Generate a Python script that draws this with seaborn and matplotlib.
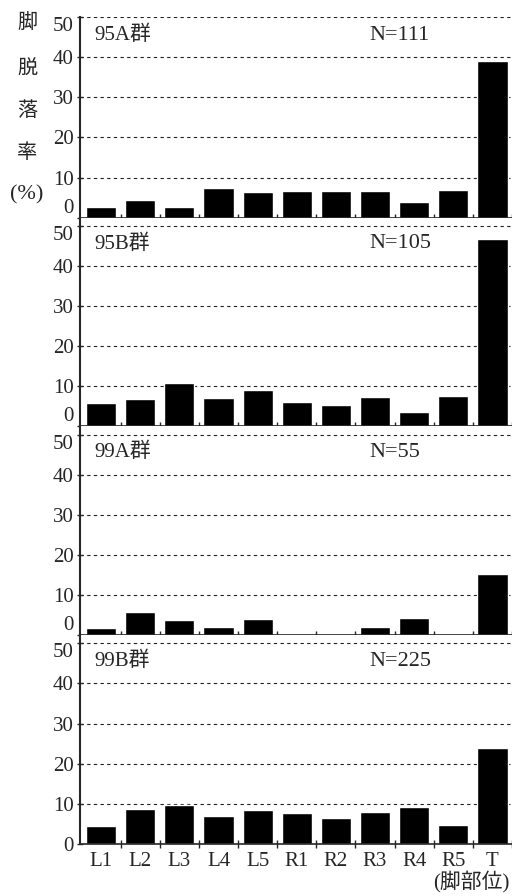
import numpy as np
import pandas as pd
import matplotlib
matplotlib.use("Agg")
import matplotlib.pyplot as plt
import seaborn as sns

sites = ['L1', 'L2', 'L3', 'L4', 'L5', 'R1', 'R2', 'R3', 'R4', 'R5', 'T']

groups = ['95A群', '95B群', '99A群', '99B群']
n_labels = ['N=111', 'N=105', 'N=55', 'N=225']

rate_95a = [2.6, 4.5, 2.6, 7.3, 6.5, 6.6, 6.7, 6.6, 4.0, 6.8, 39.0]
rate_95b = [5.8, 6.9, 10.8, 7.1, 9.0, 6.2, 5.3, 7.4, 3.5, 7.6, 46.8]
rate_99a = [1.8, 5.7, 3.9, 2.1, 4.1, 0.3, 0.3, 2.1, 4.2, 0.3, 15.2]
rate_99b = [4.5, 8.6, 9.7, 7.0, 8.5, 7.6, 6.4, 7.9, 9.3, 4.8, 23.8]

rates = [rate_95a, rate_95b, rate_99a, rate_99b]

sns.set_style('ticks')
plt.rcParams['font.family'] = ['Liberation Serif', 'Noto Sans CJK JP', 'DejaVu Sans']

fig, axes = plt.subplots(4, 1, figsize=(5.12, 8.96), dpi=100, sharex=True,
                         gridspec_kw=dict(hspace=0, height_ratios=[50, 52, 52, 52]))
fig.subplots_adjust(left=80/512, right=1.0, top=1-17/896, bottom=1-844/896)

for i, ax in enumerate(axes):
    df = pd.DataFrame({'site': sites, 'rate': rates[i]})
    sns.barplot(data=df, x='site', y='rate', order=sites, color='black',
                saturation=1, width=0.77, ax=ax)
    ax.set_ylim(0, 50 if i == 0 else 52)
    ax.set_xlim(-0.54, 10.5)
    ax.set_yticks([0, 10, 20, 30, 40, 50])
    for v in [10, 20, 30, 40, 50]:
        ax.axhline(v, color='#222222', lw=0.8, ls=(0, (3, 3)), zorder=0)
    ax.set_xlabel('')
    ax.set_ylabel('')
    sns.despine(ax=ax, top=True, right=True)
    ax.spines['left'].set_linewidth(1.5)
    ax.spines['bottom'].set_linewidth(1.2)
    ax.tick_params(axis='y', direction='inout', length=5, width=1, labelsize=15, pad=2)
    ax.set_xticks(np.arange(0.5, 11, 1), minor=True)
    ax.tick_params(axis='x', which='minor', direction='inout', length=6, width=1)
    ax.tick_params(axis='x', which='major', length=0, labelsize=15, pad=6)
    ax.text(-0.16, 45.5, groups[i], fontsize=15, ha='left', va='center')
    ax.text(6.85, 45.5, n_labels[i], fontsize=16, ha='left', va='center')

axes[-1].set_xticks(range(len(sites)))
axes[-1].set_xticklabels(sites)

# keep the 0 of one panel and the 50 of the next apart
for k, ax in enumerate(axes):
    labels = ax.get_yticklabels()
    if k < len(axes) - 1:
        labels[0].set_verticalalignment('bottom')
    labels[-1].set_verticalalignment('top')

# vertical y-axis title
for ch, y in zip(['脚', '脱', '落', '率'], [23, 70, 112, 153]):
    fig.text(27/512, 1 - y/896, ch, fontsize=14.5, ha='center', va='center')
fig.text(27/512, 1 - 195/896, '(%)', fontsize=16, ha='center', va='center')
fig.text(0.995, 1 - 881/896, '(脚部位)', fontsize=15, ha='right', va='center')

plt.savefig('out.png', dpi=100)
